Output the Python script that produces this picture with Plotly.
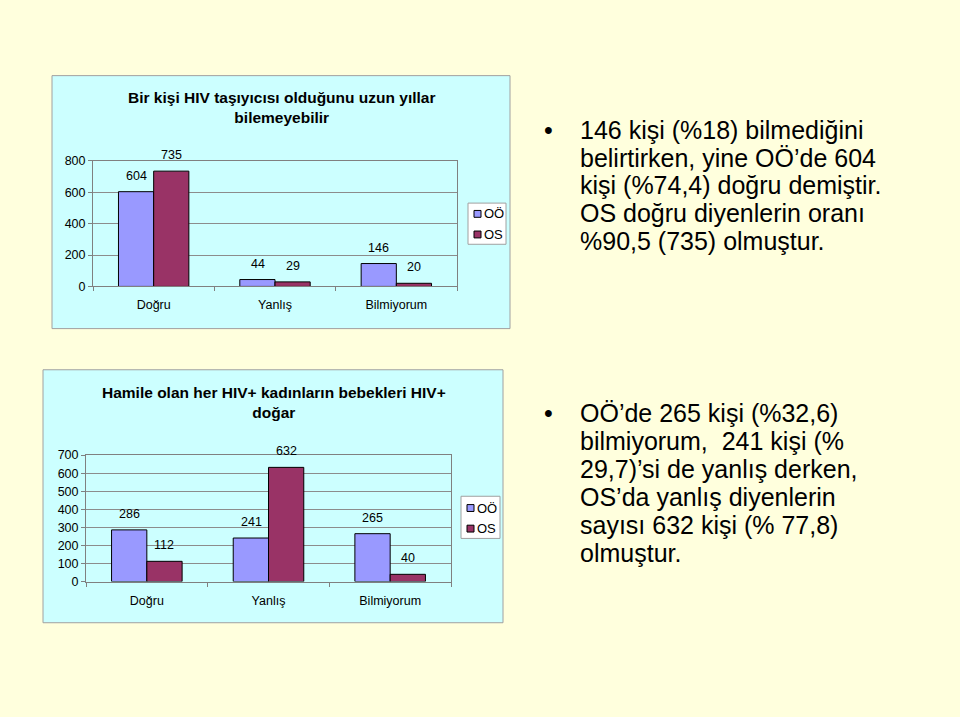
import plotly.graph_objects as go

categories = ["Doğru", "Yanlış", "Bilmiyorum"]
series_names = ["OÖ", "OS"]
chart1_oo = [604, 44, 146]
chart1_os = [735, 29, 20]
chart2_oo = [286, 241, 265]
chart2_os = [112, 632, 40]
chart1_title = "Bir kişi HIV taşıyıcısı olduğunu uzun yıllar<br>bilemeyebilir"
chart2_title = "Hamile olan her HIV+ kadınların bebekleri HIV+<br>doğar"
chart1_ticks = [0, 200, 400, 600, 800]
chart2_ticks = [0, 100, 200, 300, 400, 500, 600, 700]
bullet1_lines = ["146 kişi (%18) bilmediğini",
                 "belirtirken, yine OÖ’de 604",
                 "kişi (%74,4) doğru demiştir.",
                 "OS doğru diyenlerin oranı",
                 "%90,5 (735) olmuştur."]
bullet2_lines = ["OÖ’de 265 kişi (%32,6)",
                 "bilmiyorum,  241 kişi (%",
                 "29,7)’si de yanlış derken,",
                 "OS’da yanlış diyenlerin",
                 "sayısı 632 kişi (% 77,8)",
                 "olmuştur."]

W, H = 960, 717
C_OO = "#9999FF"
C_OS = "#993366"
COLORS = [C_OO, C_OS]
FONT = "Liberation Sans, Arial, sans-serif"


def px(x):
    return x / W


def py(y):
    return (H - y) / H


fig = go.Figure()

charts = [
    dict(oo=chart1_oo, os=chart1_os, xa="x", ya="y"),
    dict(oo=chart2_oo, os=chart2_os, xa="x2", ya="y2"),
]
for ch in charts:
    for name, vals, col in zip(series_names, [ch["oo"], ch["os"]], COLORS):
        fig.add_trace(go.Bar(x=categories, y=vals, name=name,
                             marker=dict(color=col, line=dict(color="black", width=1)),
                             xaxis=ch["xa"], yaxis=ch["ya"], showlegend=False, hoverinfo="x+y"))
    # data labels, placed over each bar of the group
    for k, (vals, shift) in enumerate(zip([ch["oo"], ch["os"]], [-17.5, 17.5])):
        for cat, v in zip(categories, vals):
            fig.add_annotation(x=cat, y=v, xref=ch["xa"], yref=ch["ya"], text=str(v), showarrow=False,
                               xshift=shift, yshift=7, yanchor="bottom",
                               font=dict(size=12.5, color="black", family=FONT))

axis_common_x = dict(type="category", showgrid=False, showline=True, linecolor="#808080", linewidth=1, mirror=True,
                     ticks="outside", tickson="boundaries", ticklen=4, tickcolor="#808080", ticklabelstandoff=7,
                     tickfont=dict(size=12.5, color="black", family=FONT), fixedrange=True)
axis_common_y = dict(showgrid=True, gridcolor="#8c8c8c", gridwidth=1, showline=True, linecolor="#808080", linewidth=1,
                     mirror=True, ticks="outside", ticklen=4, tickcolor="#808080", zeroline=False,
                     tickfont=dict(size=12.5, color="black", family=FONT), fixedrange=True)

fig.update_layout(
    width=W, height=H,
    margin=dict(l=0, r=0, t=0, b=0),
    paper_bgcolor="#FFFFDD",
    plot_bgcolor="#FFFF99",
    barmode="group", bargap=0.42, bargroupgap=0,
    font=dict(family=FONT, color="black"),
    xaxis=dict(domain=[px(93), px(457)], anchor="y", **axis_common_x),
    yaxis=dict(domain=[py(285), py(157)], anchor="x", range=[0, 800], tickvals=chart1_ticks, **axis_common_y),
    xaxis2=dict(domain=[px(86), px(451)], anchor="y2", **axis_common_x),
    yaxis2=dict(domain=[py(586), py(457)], anchor="x2", range=[0, 700], tickvals=chart2_ticks, **axis_common_y),
    showlegend=False,
)

# Chart panels (backgrounds)
fig.add_shape(type="rect", xref="paper", yref="paper", x0=px(52), x1=px(510), y0=py(328), y1=py(70),
              fillcolor="#CCFFFF", line=dict(color="#A0A0A0", width=1), layer="below")
fig.add_shape(type="rect", xref="paper", yref="paper", x0=px(43), x1=px(503), y0=py(628), y1=py(370),
              fillcolor="#CCFFFF", line=dict(color="#A0A0A0", width=1), layer="below")

# Legends (box, colour keys, labels)
legends = [
    dict(box=(468, 200, 506, 242), key_x=474, txt_x=482, rows=(211, 232)),
    dict(box=(461, 499, 500, 542), key_x=467, txt_x=475, rows=(511, 532)),
]
for lg in legends:
    x0, y0, x1, y1 = lg["box"]
    fig.add_shape(type="rect", xref="paper", yref="paper", x0=px(x0), x1=px(x1), y0=py(y1), y1=py(y0),
                  fillcolor="white", line=dict(color="#A0A0A0", width=1))
    for name, col, ry in zip(series_names, COLORS, lg["rows"]):
        fig.add_shape(type="rect", xref="paper", yref="paper", x0=px(lg["key_x"]), x1=px(lg["key_x"] + 7),
                      y0=py(ry + 3.5), y1=py(ry - 3.5), fillcolor=col, line=dict(color="black", width=1))
        fig.add_annotation(text=name, xref="paper", yref="paper", x=px(lg["txt_x"]), y=py(ry),
                           xanchor="left", yanchor="middle", showarrow=False,
                           font=dict(size=13, family=FONT, color="black"))

# Chart titles
fig.add_annotation(text="<b>" + chart1_title + "</b>", xref="paper", yref="paper", x=px(281), y=py(82),
                   xanchor="center", yanchor="top", showarrow=False, font=dict(size=15.5, family=FONT, color="black"))
fig.add_annotation(text="<b>" + chart2_title + "</b>", xref="paper", yref="paper", x=px(274), y=py(382),
                   xanchor="center", yanchor="top", showarrow=False, font=dict(size=15.5, family=FONT, color="black"))

# Bullet texts
for lines, y_first in [(bullet1_lines, 125), (bullet2_lines, 414)]:
    fig.add_annotation(text="•", xref="paper", yref="paper", x=px(548), y=py(y_first), xanchor="center",
                       yanchor="middle", showarrow=False, font=dict(size=25, family=FONT, color="black"))
    for i, line in enumerate(lines):
        fig.add_annotation(text=line, xref="paper", yref="paper", x=px(578), y=py(y_first + 28.5 * i),
                           xanchor="left", yanchor="middle", align="left", showarrow=False,
                           font=dict(size=25, family=FONT, color="black"))

fig.write_html("out.html")
